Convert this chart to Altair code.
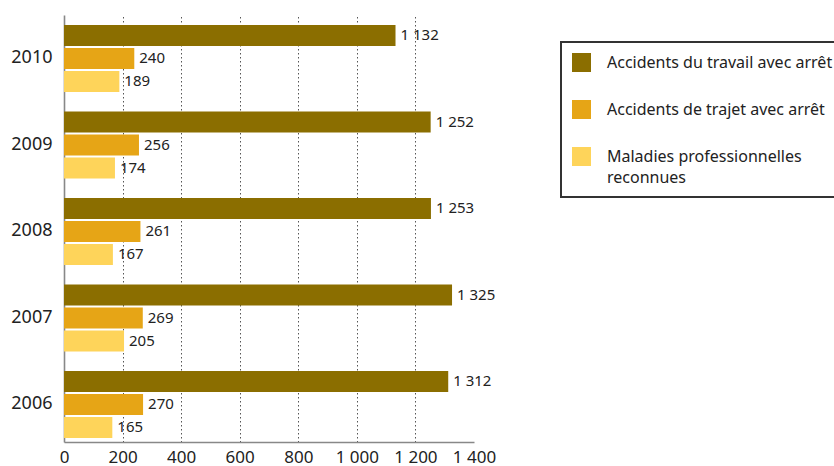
import altair as alt
import pandas as pd

# Yearly counts (thousands) by category
years = ["2010", "2009", "2008", "2007", "2006"]
series = [
    "Accidents du travail avec arrêt",
    "Accidents de trajet avec arrêt",
    "Maladies professionnelles reconnues",
]
travail = [1132, 1252, 1253, 1325, 1312]
trajet = [240, 256, 261, 269, 270]
maladies = [189, 174, 167, 205, 165]
colors = ["#8B6E00", "#E6A516", "#FED45A"]
x_ticks = [0, 200, 400, 600, 800, 1000, 1200, 1400]

rows = []
for name, vals in zip(series, [travail, trajet, maladies]):
    for y, v in zip(years, vals):
        rows.append({"annee": y, "serie": name, "valeur": v})
df = pd.DataFrame(rows)

FONT = "Noto Sans"
TXT = "#222222"

space_fmt = "replace(format(datum.value, ','), ',', ' ')"

y_enc = alt.Y(
    "annee:N",
    sort=years,
    scale=alt.Scale(paddingInner=0.2254, paddingOuter=0.081, align=0.71),
    axis=alt.Axis(
        title=None,
        ticks=False,
        labelFontSize=18,
        labelColor=TXT,
        labelFont=FONT,
        labelPadding=12,
        domainColor="#888888",
        domainWidth=1.6,
    ),
)
yoff_enc = alt.YOffset(
    "serie:N",
    sort=series,
    scale=alt.Scale(paddingInner=0.087, paddingOuter=0),
)
x_scale = alt.Scale(domain=[0, 1400], nice=False)

bars = alt.Chart(df).mark_bar().encode(
    x=alt.X(
        "valeur:Q",
        scale=x_scale,
        axis=alt.Axis(
            title=None,
            values=x_ticks,
            labelExpr=space_fmt,
            labelOverlap=False,
            labelFlush=False,
            labelFontSize=17,
            labelColor=TXT,
            labelFont=FONT,
            labelPadding=7,
            ticks=False,
            domainColor="#888888",
            domainWidth=1.6,
            grid=True,
            gridColor="#555555",
            gridDash=[1.5, 2.5],
            gridWidth=1,
            gridOpacity={"condition": {"test": "datum.value >= 1400 || datum.value <= 0", "value": 0}, "value": 1},
        ),
    ),
    y=y_enc,
    yOffset=yoff_enc,
    color=alt.Color(
        "serie:N",
        sort=series,
        scale=alt.Scale(domain=series, range=colors),
        legend=alt.Legend(
            title=None,
            orient="none",
            legendX=497,
            legendY=27,
            padding=11,
            strokeColor="#333333",
            fillColor="white",
            symbolType="square",
            symbolSize=361,
            symbolStrokeWidth=0,
            symbolOpacity=1,
            labelFont=FONT,
            labelFontSize=16,
            labelColor=TXT,
            labelOffset=16,
            labelLimit=400,
            rowPadding=28,
            labelExpr="datum.label == 'Maladies professionnelles reconnues' ? ['Maladies professionnelles', 'reconnues'] : datum.label",
        ),
    ),
)

labels = alt.Chart(df).transform_calculate(
    txt="replace(format(datum.valeur, ','), ',', ' ')"
).mark_text(
    align="left", baseline="middle", dx=5, fontSize=15, font=FONT, color=TXT
).encode(
    x=alt.X("valeur:Q", scale=x_scale),
    y=alt.Y("annee:N", sort=years),
    yOffset=alt.YOffset("serie:N", sort=series),
    text="txt:N",
)

chart = (
    alt.layer(bars, labels)
    .properties(
        width=410,
        height=427,
        padding={"left": 64, "top": 15, "right": 360, "bottom": 24},
        autosize=alt.AutoSizeParams(type="none"),
    )
    .configure(style={"guide-label": {"lineHeight": 21}})
    .configure_view(stroke=None)
    .configure_legend(strokeWidth=2)
)

chart.save("out.html", embed_options={"renderer": "svg", "actions": False})
